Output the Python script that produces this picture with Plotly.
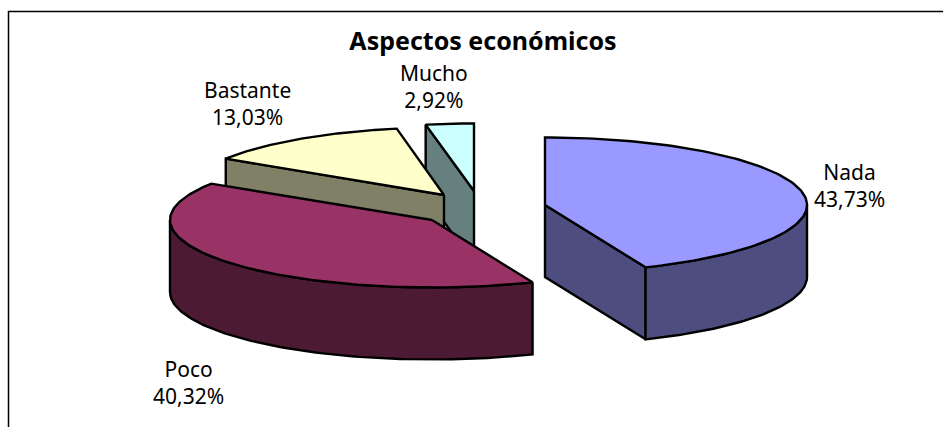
import numpy as np
import plotly.graph_objects as go

categories = ["Nada", "Poco", "Bastante", "Mucho"]
values = [43.73, 40.32, 13.03, 2.92]
top_colors = ["#9999FF", "#993366", "#FFFFCC", "#CCFFFF"]
wall_colors = ["#4D4D80", "#4D1A33", "#808066", "#668080"]
title_text = "Aspectos económicos"

# Apex of every exploded slice and pie projection, in figure pixels
centers = [(545, 205), (432, 220), (444, 195), (474, 191)]
radii_x = [262, 262, 259, 265]
label_pos = [(849, 185), (188, 382), (247, 103), (434, 86)]
RY, DEPTH = 67.5, 72
W, H = 943, 427
FONT = "Noto Sans"

fig = go.Figure()


def face(x, y, fill):
    fig.add_trace(go.Scatter(x=x, y=y, mode="lines", fill="toself", fillcolor=fill,
                             line=dict(color="black", width=2.4, shape="linear"),
                             hoverinfo="skip", showlegend=False))


starts = np.cumsum([0] + values[:-1]) / 100 * 360
ends = np.cumsum(values) / 100 * 360

for i in [3, 2, 1, 0]:
    cx, cy = centers[i]
    RX = radii_x[i]
    a0, a1 = starts[i], ends[i]
    th = np.radians(np.linspace(a0, a1, 120))
    ax = cx + RX * np.sin(th)
    ay = cy - RY * np.cos(th)
    # visible cut faces
    for a, sign in ((a0, -1), (a1, 1)):
        s = np.sin(np.radians(a))
        if sign * s > 1e-6:
            ex = cx + RX * s
            ey = cy - RY * np.cos(np.radians(a))
            face([cx, ex, ex, cx, cx], [cy, ey, ey + DEPTH, cy + DEPTH, cy], wall_colors[i])
    # outer wall, only the part that faces the viewer
    lo, hi = max(a0, 90), min(a1, 270)
    if hi > lo:
        t = np.radians(np.linspace(lo, hi, 100))
        ox = cx + RX * np.sin(t)
        oy = cy - RY * np.cos(t)
        face(np.r_[ox, ox[::-1], ox[0]], np.r_[oy, oy[::-1] + DEPTH, oy[0]], wall_colors[i])
    # top
    face(np.r_[cx, ax, cx], np.r_[cy, ay, cy], top_colors[i])

for name, v, (lx, ly) in zip(categories, values, label_pos):
    fig.add_annotation(x=lx, y=ly, text=f"{name}<br>{v:.2f}%".replace(".", ","),
                       showarrow=False, font=dict(family=FONT, size=21, color="black"),
                       align="center")

fig.add_shape(type="line", x0=8.5, x1=8.5, y0=11, y1=H, line=dict(color="black", width=1.5))
fig.add_shape(type="line", x0=8, x1=W, y0=11.5, y1=11.5, line=dict(color="black", width=1.5))

fig.update_layout(
    width=W, height=H, margin=dict(l=0, r=0, t=0, b=0),
    paper_bgcolor="white", plot_bgcolor="white", showlegend=False,
    title=dict(text=f"<b>{title_text}</b>", x=483 / W, y=1 - 41 / H, xanchor="center", yanchor="middle",
               font=dict(family=FONT, size=25, color="black")),
    xaxis=dict(range=[0, W], visible=False, fixedrange=True),
    yaxis=dict(range=[H, 0], visible=False, fixedrange=True),
)
fig.write_html("out.html", config={"displayModeBar": False},
               post_script="document.body.style.margin='0';document.body.style.overflow='hidden';")
